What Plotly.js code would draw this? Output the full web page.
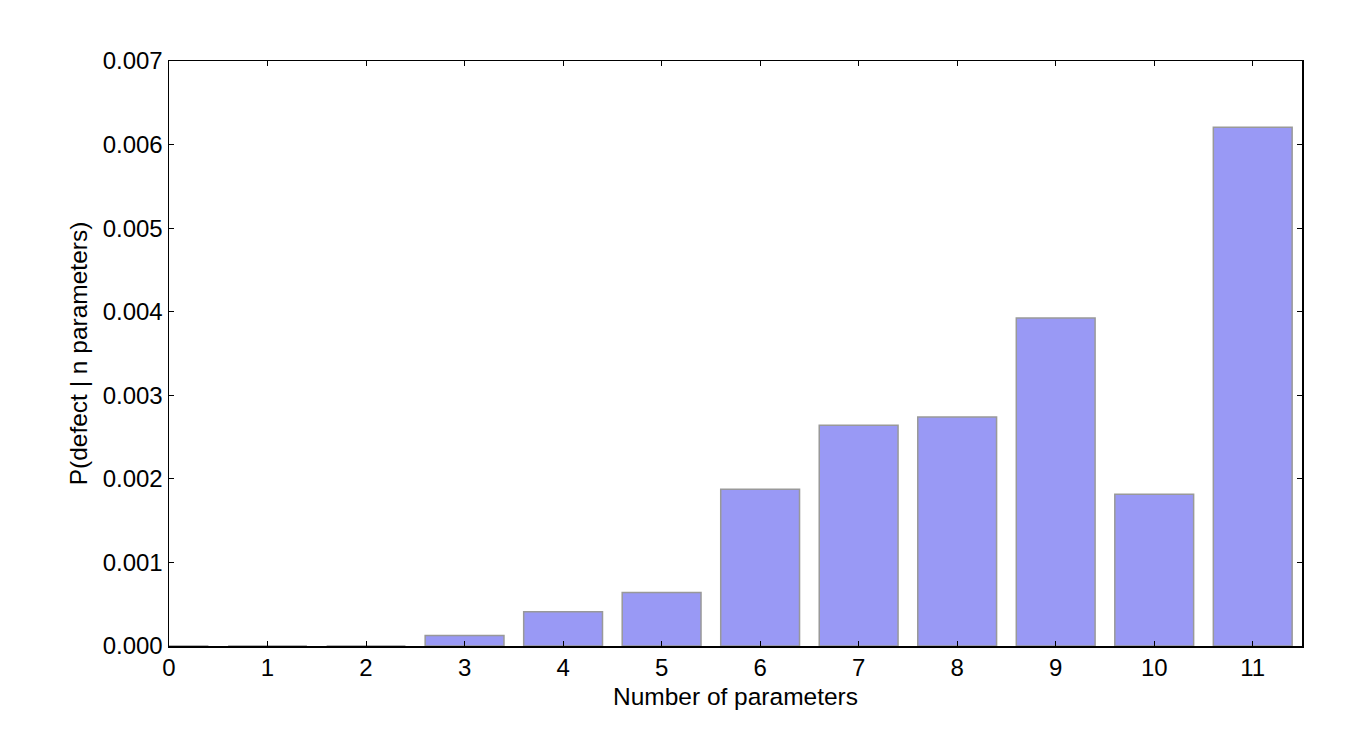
<!DOCTYPE html>
<html>
<head>
<meta charset="utf-8">
<script src="https://cdn.plot.ly/plotly-3.0.1.min.js"></script>
<style>html,body{margin:0;padding:0;background:#fff;}#chart{width:1352px;height:746px;}</style>
</head>
<body>
<div id="chart"></div>
<script>
const numParams = [0, 1, 2, 3, 4, 5, 6, 7, 8, 9, 10, 11];
const pDefect = [0, 0, 0, 0.000126, 0.00041, 0.00064, 0.001875, 0.00264, 0.00274, 0.003925, 0.001815, 0.006207];
const xTicks = [0, 1, 2, 3, 4, 5, 6, 7, 8, 9, 10, 11];
const yTicks = [0, 0.001, 0.002, 0.003, 0.004, 0.005, 0.006, 0.007];

const font = {family: 'Liberation Sans, Arial, sans-serif', size: 24, color: '#000'};
const titleFont = {family: 'Liberation Sans, Arial, sans-serif', size: 24.5, color: '#000'};

const trace = {
  type: 'bar',
  x: numParams,
  y: pDefect,
  width: 0.8,
  marker: {color: '#9999f5', line: {color: '#999999', width: 1.5}},
  hoverinfo: 'x+y'
};

const axisCommon = {
  showline: true, mirror: 'ticks', linecolor: '#000', linewidth: 1.5,
  ticks: 'inside', ticklen: 5, tickwidth: 1, tickcolor: '#000',
  showgrid: false, zeroline: false, tickfont: font
};

const layout = {
  width: 1352, height: 746,
  margin: {l: 169, r: 50, t: 61, b: 100},
  paper_bgcolor: '#fff', plot_bgcolor: '#fff',
  font: font,
  showlegend: false,
  bargap: 0.2,
  xaxis: Object.assign({}, axisCommon, {
    range: [0, 11.5], tickvals: xTicks, ticktext: xTicks.map(String),
    title: {text: 'Number of parameters', font: titleFont, standoff: 7}
  }),
  yaxis: Object.assign({}, axisCommon, {
    range: [0, 0.007], tickvals: yTicks, ticktext: yTicks.map(v => v.toFixed(3)),
    title: {text: 'P(defect | n parameters)', font: titleFont, standoff: 8}
  })
};

Plotly.newPlot('chart', [trace], layout, {displayModeBar: false, staticPlot: true});
</script>
</body>
</html>
